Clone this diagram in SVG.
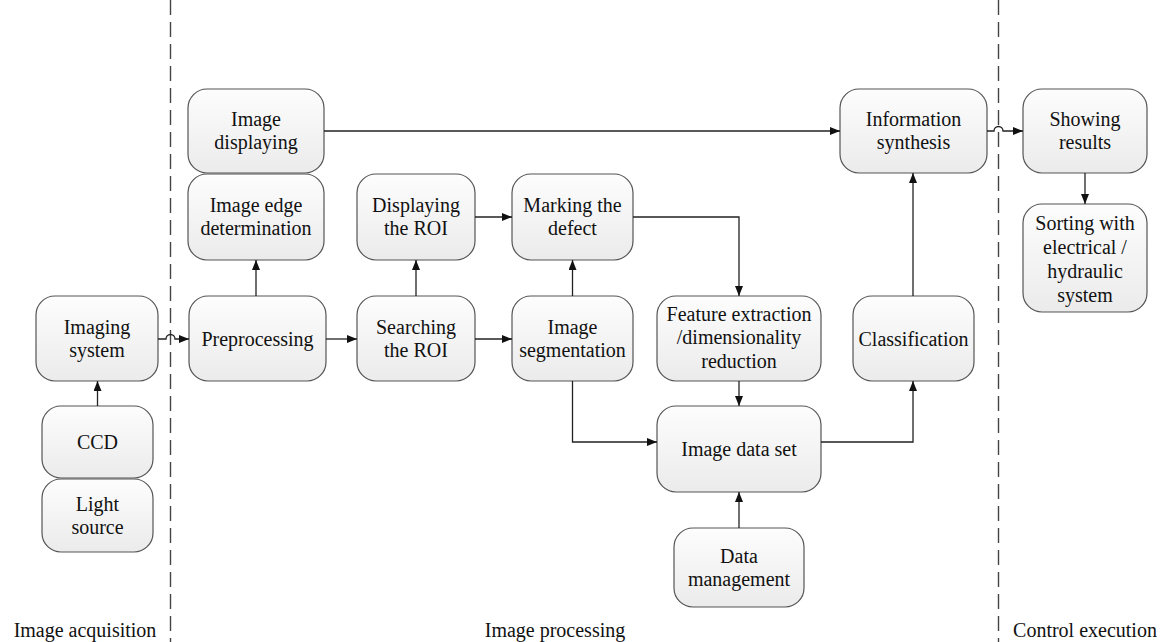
<svg xmlns="http://www.w3.org/2000/svg" width="1163" height="642" viewBox="0 0 1163 642" font-family="'Liberation Serif', 'DejaVu Serif', serif">
<defs>
<linearGradient id="g" x1="0" y1="0" x2="0" y2="1">
<stop offset="0" stop-color="#fdfdfd"/>
<stop offset="1" stop-color="#ebebeb"/>
</linearGradient>
<marker id="ah" viewBox="0 0 10 8" refX="10" refY="4" markerWidth="10" markerHeight="8" markerUnits="userSpaceOnUse" orient="auto">
<path d="M0,0 L10,4 L0,8 Z" fill="#111"/>
</marker>
</defs>
<style>
.n rect{fill:url(#g);stroke:#555;stroke-width:1.2}
text{font-family:'Liberation Serif','DejaVu Serif',serif;font-size:20px;fill:#111;text-anchor:middle}
.c path{fill:none;stroke:#222;stroke-width:1.3;marker-end:url(#ah)}
.d{stroke:#444;stroke-width:1.4;stroke-dasharray:15 7;fill:none}
</style>
<rect width="1163" height="642" fill="#fff"/>
<g id="dividers">
<line class="d" x1="170.5" y1="0" x2="170.5" y2="642"/>
<line class="d" x1="998.5" y1="0" x2="998.5" y2="642"/>
</g>
<g id="imaging-system" class="n"><rect x="36" y="296" width="122" height="85" rx="19"/><text x="97" y="333.5">Imaging</text><text x="97" y="356.5">system</text></g>
<g id="ccd" class="n"><rect x="42" y="406" width="111" height="72" rx="19"/><text x="97.5" y="449">CCD</text></g>
<g id="light-source" class="n"><rect x="42" y="479" width="111" height="73" rx="19"/><text x="97.5" y="510.5">Light</text><text x="97.5" y="533.5">source</text></g>
<g id="image-displaying" class="n"><rect x="188" y="89" width="136" height="84" rx="19"/><text x="256" y="126">Image</text><text x="256" y="149">displaying</text></g>
<g id="image-edge" class="n"><rect x="188" y="174" width="136" height="86" rx="19"/><text x="256" y="212">Image edge</text><text x="256" y="235">determination</text></g>
<g id="preprocessing" class="n"><rect x="189" y="296" width="137" height="85" rx="19"/><text x="257.5" y="345.5">Preprocessing</text></g>
<g id="displaying-roi" class="n"><rect x="357" y="174" width="118" height="86" rx="19"/><text x="416" y="212">Displaying</text><text x="416" y="235">the ROI</text></g>
<g id="searching-roi" class="n"><rect x="357" y="296" width="118" height="85" rx="19"/><text x="416" y="333.5">Searching</text><text x="416" y="356.5">the ROI</text></g>
<g id="marking-defect" class="n"><rect x="512" y="174" width="121" height="86" rx="19"/><text x="572.5" y="212">Marking the</text><text x="572.5" y="235">defect</text></g>
<g id="image-segmentation" class="n"><rect x="512" y="296" width="121" height="85" rx="19"/><text x="572.5" y="333.5">Image</text><text x="572.5" y="356.5">segmentation</text></g>
<g id="feature-extraction" class="n"><rect x="657" y="296" width="164" height="85" rx="19"/><text x="739" y="320.5">Feature extraction</text><text x="739" y="344">/dimensionality</text><text x="739" y="367.5">reduction</text></g>
<g id="image-data-set" class="n"><rect x="657" y="406" width="164" height="86" rx="19"/><text x="739" y="456">Image data set</text></g>
<g id="data-management" class="n"><rect x="674" y="528" width="130" height="79" rx="19"/><text x="739" y="562.5">Data</text><text x="739" y="585.5">management</text></g>
<g id="classification" class="n"><rect x="853" y="296" width="121" height="85" rx="19"/><text x="913.5" y="345.5">Classification</text></g>
<g id="information-synthesis" class="n"><rect x="840" y="89" width="147" height="84" rx="19"/><text x="913.5" y="126">Information</text><text x="913.5" y="149">synthesis</text></g>
<g id="showing-results" class="n"><rect x="1023" y="89" width="124" height="84" rx="19"/><text x="1085" y="126">Showing</text><text x="1085" y="149">results</text></g>
<g id="sorting" class="n"><rect x="1023" y="204" width="124" height="108" rx="19"/><text x="1085" y="230">Sorting with</text><text x="1085" y="254">electrical /</text><text x="1085" y="278">hydraulic</text><text x="1085" y="302">system</text></g>
<g id="connectors" class="c">
<path d="M97.5 406 V381"/>
<path d="M158 339 H166 A4.5 4.5 0 0 1 175 339 H189"/>
<path d="M256 296 V260"/>
<path d="M324 131 H840"/>
<path d="M326 339 H357"/>
<path d="M416 296 V260"/>
<path d="M475 339 H512"/>
<path d="M475 217 H512"/>
<path d="M572.5 296 V260"/>
<path d="M633 217 H739 V296"/>
<path d="M572.5 381 V442 H657"/>
<path d="M739 381 V406"/>
<path d="M739 528 V492"/>
<path d="M821 442 H913 V381"/>
<path d="M913 296 V173"/>
<path d="M987 131 H994 A4.5 4.5 0 0 1 1003 131 H1023"/>
<path d="M1085 173 V204"/>
</g>
<g id="labels">
<text x="85" y="637">Image acquisition</text>
<text x="555" y="637">Image processing</text>
<text x="1085" y="637">Control execution</text>
</g>
</svg>
